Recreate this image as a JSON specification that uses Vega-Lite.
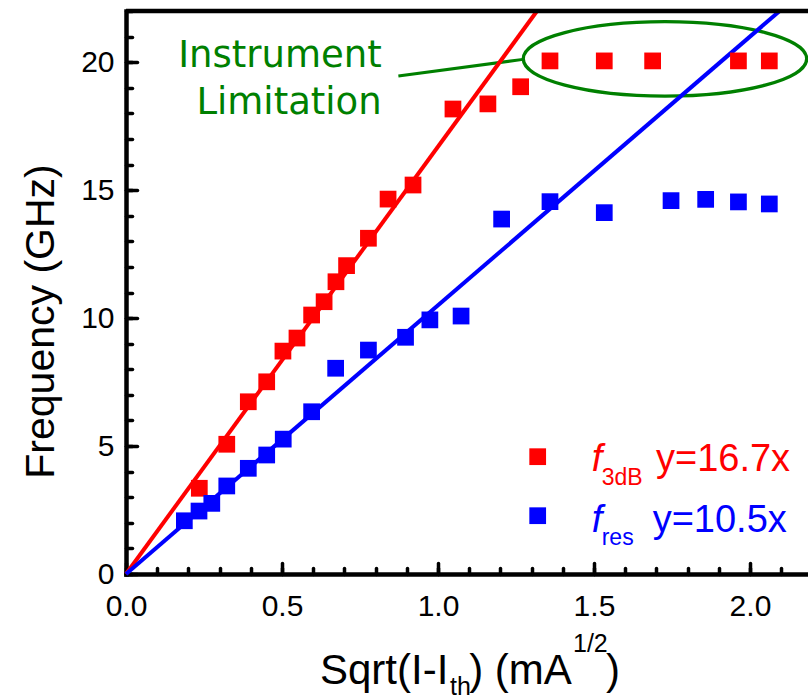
{
  "$schema": "https://vega.github.io/schema/vega-lite/v6.json",
  "width": 682,
  "height": 563,
  "autosize": "none",
  "padding": {"left": 126, "top": 11, "right": 0, "bottom": 123},
  "background": "white",
  "config": {"view": {"stroke": null}, "text": {"font": "Liberation Sans"}, "axis": {"labelFont": "Liberation Sans", "titleFont": "Liberation Sans"}},
  "data": {"values": [{}]},
  "datasets": {
    "points": [
      {"x": 0.235, "y": 3.35, "series": "f3dB"},
      {"x": 0.323, "y": 5.07, "series": "f3dB"},
      {"x": 0.392, "y": 6.73, "series": "f3dB"},
      {"x": 0.451, "y": 7.51, "series": "f3dB"},
      {"x": 0.503, "y": 8.71, "series": "f3dB"},
      {"x": 0.548, "y": 9.22, "series": "f3dB"},
      {"x": 0.595, "y": 10.12, "series": "f3dB"},
      {"x": 0.635, "y": 10.64, "series": "f3dB"},
      {"x": 0.673, "y": 11.42, "series": "f3dB"},
      {"x": 0.707, "y": 12.05, "series": "f3dB"},
      {"x": 0.777, "y": 13.12, "series": "f3dB"},
      {"x": 0.84, "y": 14.65, "series": "f3dB"},
      {"x": 0.92, "y": 15.2, "series": "f3dB"},
      {"x": 1.048, "y": 18.17, "series": "f3dB"},
      {"x": 1.16, "y": 18.37, "series": "f3dB"},
      {"x": 1.265, "y": 19.04, "series": "f3dB"},
      {"x": 1.359, "y": 20.05, "series": "f3dB"},
      {"x": 1.533, "y": 20.05, "series": "f3dB"},
      {"x": 1.688, "y": 20.05, "series": "f3dB"},
      {"x": 1.963, "y": 20.05, "series": "f3dB"},
      {"x": 2.062, "y": 20.05, "series": "f3dB"},
      {"x": 0.187, "y": 2.08, "series": "fres"},
      {"x": 0.234, "y": 2.46, "series": "fres"},
      {"x": 0.275, "y": 2.76, "series": "fres"},
      {"x": 0.323, "y": 3.44, "series": "fres"},
      {"x": 0.392, "y": 4.13, "series": "fres"},
      {"x": 0.451, "y": 4.65, "series": "fres"},
      {"x": 0.504, "y": 5.27, "series": "fres"},
      {"x": 0.595, "y": 6.34, "series": "fres"},
      {"x": 0.672, "y": 8.04, "series": "fres"},
      {"x": 0.777, "y": 8.75, "series": "fres"},
      {"x": 0.896, "y": 9.25, "series": "fres"},
      {"x": 0.974, "y": 9.93, "series": "fres"},
      {"x": 1.074, "y": 10.08, "series": "fres"},
      {"x": 1.204, "y": 13.87, "series": "fres"},
      {"x": 1.359, "y": 14.55, "series": "fres"},
      {"x": 1.533, "y": 14.12, "series": "fres"},
      {"x": 1.747, "y": 14.59, "series": "fres"},
      {"x": 1.858, "y": 14.64, "series": "fres"},
      {"x": 1.963, "y": 14.54, "series": "fres"},
      {"x": 2.062, "y": 14.46, "series": "fres"}
    ],
    "fit3dB": [{"x": 0, "y": 0}, {"x": 1.3174, "y": 22}],
    "fitres": [{"x": 0, "y": 0}, {"x": 2.0952, "y": 22}]
  },
  "resolve": {"axis": {"x": "independent", "y": "independent"}},
  "layer": [
    {
      "mark": {"type": "point", "shape": "M -1 0 A 1 0.2625 0 1 0 1 0 A 1 0.2625 0 1 0 -1 0 Z", "size": 80316, "filled": false, "fill": null, "stroke": "#008000", "strokeWidth": 3.3, "opacity": 1},
      "encoding": {
        "x": {"datum": 1.7276, "type": "quantitative", "scale": {"domain": [0, 2.186], "nice": false, "zero": false}, "axis": null},
        "y": {"datum": 20.13, "type": "quantitative", "scale": {"domain": [0, 22], "nice": false, "zero": false}, "axis": null}
      }
    },
    {
      "mark": {"type": "rule", "color": "#008000", "strokeWidth": 3},
      "encoding": {
        "x": {"datum": 0.873, "type": "quantitative", "axis": null},
        "y": {"datum": 19.46, "type": "quantitative", "axis": null},
        "x2": {"datum": 1.273},
        "y2": {"datum": 20.11}
      }
    },
    {
      "data": {"name": "fit3dB"},
      "mark": {"type": "line", "color": "#ff0000", "strokeWidth": 4},
      "encoding": {
        "x": {"field": "x", "type": "quantitative",
          "axis": {
            "orient": "bottom",
            "values": [0, 0.1, 0.2, 0.3, 0.4, 0.5, 0.6, 0.7, 0.8, 0.9, 1, 1.1, 1.2, 1.3, 1.4, 1.5, 1.6, 1.7, 1.8, 1.9, 2, 2.1],
            "labels": false, "domain": false, "grid": false, "title": null,
            "tickSize": -6, "tickWidth": 3.5, "tickColor": "black", "tickCap": "round"
          }},
        "y": {"field": "y", "type": "quantitative",
          "axis": {
            "orient": "left",
            "values": [0, 1, 2, 3, 4, 5, 6, 7, 8, 9, 10, 11, 12, 13, 14, 15, 16, 17, 18, 19, 20, 21, 22],
            "labels": false, "domain": false, "grid": false, "title": null,
            "tickSize": -6, "tickWidth": 3.5, "tickColor": "black", "tickCap": "round"
          }}
      }
    },
    {
      "data": {"name": "fitres"},
      "mark": {"type": "line", "color": "#0000ff", "strokeWidth": 4},
      "encoding": {
        "x": {"field": "x", "type": "quantitative", "axis": null},
        "y": {"field": "y", "type": "quantitative", "axis": null}
      }
    },
    {
      "data": {"name": "points"},
      "mark": {"type": "square", "size": 280, "opacity": 1},
      "encoding": {
        "x": {"field": "x", "type": "quantitative", "scale": {"domain": [0, 2.186], "nice": false, "zero": false},
          "axis": {
            "orient": "bottom",
            "values": [0, 0.5, 1, 1.5, 2],
            "format": ".1f",
            "labelFont": "Liberation Sans", "labelFontSize": 30, "labelColor": "black", "labelPadding": 28,
            "labelFlush": false, "labelOverlap": false,
            "tickSize": -11,
            "tickWidth": 3.5, "tickColor": "black", "tickCap": "round",
            "domainWidth": 4.5, "domainColor": "black", "domainCap": "square",
            "grid": false, "title": null
          }},
        "y": {"field": "y", "type": "quantitative", "scale": {"domain": [0, 22], "nice": false, "zero": false},
          "axis": {
            "orient": "left",
            "values": [0, 5, 10, 15, 20],
            "labelFont": "Liberation Sans", "labelFontSize": 30, "labelColor": "black", "labelPadding": 23,
            "labelFlush": false, "labelOverlap": false,
            "tickSize": -11,
            "tickWidth": 3.5, "tickColor": "black", "tickCap": "round",
            "domainWidth": 4.5, "domainColor": "black", "domainCap": "square",
            "grid": false,
            "title": "Frequency (GHz)",
            "titleFont": "Liberation Sans", "titleFontSize": 41, "titleFontWeight": "normal", "titleColor": "black",
            "titleAngle": -90, "titleBaseline": "alphabetic", "titleAlign": "center",
            "titleX": -73, "titleY": 310
          }},
        "color": {"field": "series", "type": "nominal", "scale": {"domain": ["f3dB", "fres"], "range": ["#ff0000", "#0000ff"]}, "legend": null}
      }
    },
    {
      "mark": {"type": "rule", "color": "black", "strokeWidth": 4.5},
      "encoding": {
        "y": {"datum": 22, "type": "quantitative", "axis": null}
      }
    },
    {
      "mark": {"type": "text", "text": "Instrument", "font": "DejaVu Sans", "fontSize": 37, "color": "#008000", "align": "right", "baseline": "alphabetic"},
      "encoding": {
        "x": {"datum": 0.8196, "type": "quantitative", "axis": null},
        "y": {"datum": 19.82, "type": "quantitative", "axis": null}
      }
    },
    {
      "mark": {"type": "text", "text": "Limitation", "font": "DejaVu Sans", "fontSize": 37, "color": "#008000", "align": "right", "baseline": "alphabetic"},
      "encoding": {
        "x": {"datum": 0.8196, "type": "quantitative", "axis": null},
        "y": {"datum": 17.98, "type": "quantitative", "axis": null}
      }
    },
    {
      "mark": {"type": "square", "size": 280, "opacity": 1, "color": "#ff0000"},
      "encoding": {
        "x": {"datum": 1.3196, "type": "quantitative", "axis": null},
        "y": {"datum": 4.584, "type": "quantitative", "axis": null}
      }
    },
    {
      "mark": {"type": "square", "size": 280, "opacity": 1, "color": "#0000ff"},
      "encoding": {
        "x": {"datum": 1.3196, "type": "quantitative", "axis": null},
        "y": {"datum": 2.278, "type": "quantitative", "axis": null}
      }
    },
    {
      "mark": {"type": "text", "text": "f", "fontSize": 38, "fontStyle": "italic", "color": "#ff0000", "align": "left", "baseline": "alphabetic"},
      "encoding": {
        "x": {"datum": 1.4926, "type": "quantitative", "axis": null},
        "y": {"datum": 4.025, "type": "quantitative", "axis": null}
      }
    },
    {
      "mark": {"type": "text", "text": "3dB", "fontSize": 23, "color": "#ff0000", "align": "left", "baseline": "alphabetic"},
      "encoding": {
        "x": {"datum": 1.5247, "type": "quantitative", "axis": null},
        "y": {"datum": 3.478, "type": "quantitative", "axis": null}
      }
    },
    {
      "mark": {"type": "text", "text": "y=16.7x", "fontSize": 38, "color": "#ff0000", "align": "left", "baseline": "alphabetic"},
      "encoding": {
        "x": {"datum": 1.6987, "type": "quantitative", "axis": null},
        "y": {"datum": 4.025, "type": "quantitative", "axis": null}
      }
    },
    {
      "mark": {"type": "text", "text": "f", "fontSize": 38, "fontStyle": "italic", "color": "#0000ff", "align": "left", "baseline": "alphabetic"},
      "encoding": {
        "x": {"datum": 1.4926, "type": "quantitative", "axis": null},
        "y": {"datum": 1.653, "type": "quantitative", "axis": null}
      }
    },
    {
      "mark": {"type": "text", "text": "res", "fontSize": 23, "color": "#0000ff", "align": "left", "baseline": "alphabetic"},
      "encoding": {
        "x": {"datum": 1.5247, "type": "quantitative", "axis": null},
        "y": {"datum": 1.133, "type": "quantitative", "axis": null}
      }
    },
    {
      "mark": {"type": "text", "text": "y=10.5x", "fontSize": 38, "color": "#0000ff", "align": "left", "baseline": "alphabetic"},
      "encoding": {
        "x": {"datum": 1.688, "type": "quantitative", "axis": null},
        "y": {"datum": 1.653, "type": "quantitative", "axis": null}
      }
    },
    {
      "mark": {"type": "text", "text": "Sqrt(I-I", "fontSize": 42, "color": "black", "align": "left", "baseline": "alphabetic"},
      "encoding": {
        "x": {"datum": 0.6218, "type": "quantitative", "axis": null},
        "y": {"datum": -4.3, "type": "quantitative", "axis": null}
      }
    },
    {
      "mark": {"type": "text", "text": "th", "fontSize": 25, "color": "black", "align": "left", "baseline": "alphabetic"},
      "encoding": {
        "x": {"datum": 1.0385, "type": "quantitative", "axis": null},
        "y": {"datum": -4.73, "type": "quantitative", "axis": null}
      }
    },
    {
      "mark": {"type": "text", "text": ") (mA", "fontSize": 42, "color": "black", "align": "left", "baseline": "alphabetic"},
      "encoding": {
        "x": {"datum": 1.1, "type": "quantitative", "axis": null},
        "y": {"datum": -4.3, "type": "quantitative", "axis": null}
      }
    },
    {
      "mark": {"type": "text", "text": "1/2", "fontSize": 25, "color": "black", "align": "left", "baseline": "alphabetic"},
      "encoding": {
        "x": {"datum": 1.4327, "type": "quantitative", "axis": null},
        "y": {"datum": -3.05, "type": "quantitative", "axis": null}
      }
    },
    {
      "mark": {"type": "text", "text": ")", "fontSize": 42, "color": "black", "align": "left", "baseline": "alphabetic"},
      "encoding": {
        "x": {"datum": 1.5385, "type": "quantitative", "axis": null},
        "y": {"datum": -4.3, "type": "quantitative", "axis": null}
      }
    }
  ]
}
